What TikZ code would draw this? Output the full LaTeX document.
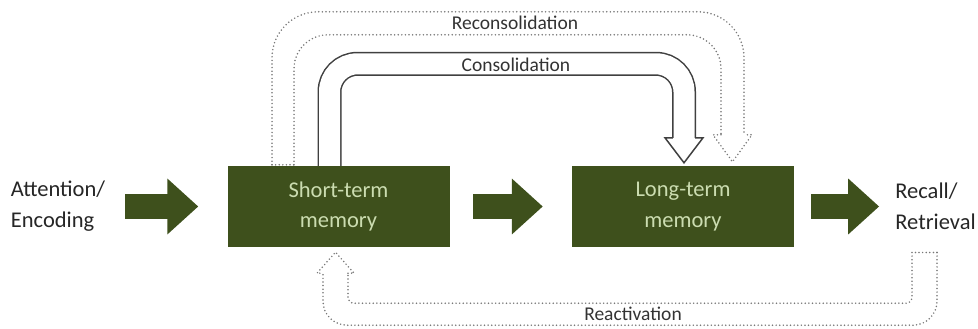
\documentclass[tikz,border=0pt]{standalone}
\usepackage{fontspec}
\setmainfont{Carlito}
\usetikzlibrary{arrows.meta,calc}

\definecolor{memgreen}{RGB}{62,80,28}
\definecolor{memtext}{RGB}{203,220,176}
\definecolor{dotgray}{RGB}{120,120,120}

\tikzset{
 memory/.style={rectangle, fill=memgreen, text=memtext, minimum width=222pt, minimum height=81pt, align=center, font=\fontsize{22.5}{31}\selectfont},
 side/.style={align=left, inner sep=0pt, text=black!85, font=\fontsize{22.5}{31}\selectfont},
 tag/.style={inner sep=0pt, text=black!80, font=\fontsize{19.5}{22}\selectfont},
 blockarrow/.style={draw=memgreen, line width=25pt, -{Triangle[length=31pt, width=54pt]}},
 hollow/.style={draw=black!75, line width=1.5pt, double=white, double distance=21pt, rounded corners=28pt},
 hollowhead/.style={draw=black!75, line width=1.5pt, line join=miter},
 dotline/.style={draw=dotgray, line width=1.7pt, line cap=round, dash pattern=on 0pt off 3.6pt}
}

\begin{document}
\begin{tikzpicture}[x=1pt, y=-1pt]
 \useasboundingbox (0,0) rectangle (978,329);
 \node[side] (A) at (58,206.5) {Attention/\\Encoding};
 \node[memory] (B) at (338.5,206.5) {Short-term\\memory};
 \node[memory] (C) at (683,206.5) {Long-term\\memory};
 \node[side] (D) at (935.5,206.5) {Recall/\\Retrieval};

 \draw[blockarrow, shorten <=20pt, shorten >=29pt] (A) -- (B);
 \draw[blockarrow, shorten <=23.5pt, shorten >=29pt] (B) -- (C);
 \draw[blockarrow, shorten <=17pt, shorten >=16pt] (C) -- (D);

 \coordinate (c1) at ($(B.north)+(-9,0)$);
 \coordinate (c2) at ($(C.north)+(1,-28)$);
 \draw[hollow] (c1) -- ++(0,-102) -| (c2);
 \draw[hollowhead] ($(c2)+(-11.2,0)$) -- ($(c2)+(-19,0)$) -- ($(C.north)+(1,-3)$) -- ($(c2)+(19,0)$) -- ($(c2)+(11.2,0)$);
 \node[tag] (F) at (516,65) {Consolidation};

 \draw[dotline, rounded corners=46pt] ($(B.north)+(-66.5,-1)$) |- ($(C.north)+(61,-154)$) -- ($(C.north)+(61,-31)$);
 \draw[dotline, rounded corners=34pt] ($(B.north)+(-44.5,-1)$) |- ($(C.north)+(38,-131)$) -- ($(C.north)+(38,-31)$);
 \draw[dotline] ($(B.north)+(-66.5,-1)$) -- ($(B.north)+(-44.5,-1)$);
 \draw[dotline] ($(C.north)+(38,-31)$) -- ($(C.north)+(30,-31)$) -- ($(C.north)+(49.5,-4)$) -- ($(C.north)+(69,-31)$) -- ($(C.north)+(61,-31)$);
 \node[tag] (E) at (515,23) {Reconsolidation};

 \draw[dotline, rounded corners=24pt] ($(D)+(1.5,46)$) |- ($(B.south)+(-15.5,78)$) -- ($(B.south)+(-15.5,26)$);
 \draw[dotline, rounded corners=6pt] ($(D)+(-23.5,46)$) |- ($(B.south)+(9.5,56)$) -- ($(B.south)+(9.5,26)$);
 \draw[dotline] ($(D)+(1.5,46)$) -- ($(D)+(-23.5,46)$);
 \draw[dotline] ($(B.south)+(9.5,26)$) -- ($(B.south)+(15.5,26)$) -- ($(B.south)+(-3,5)$) -- ($(B.south)+(-21.5,26)$) -- ($(B.south)+(-15.5,26)$);
 \node[tag] (G) at (633,314) {Reactivation};
\end{tikzpicture}
\end{document}
